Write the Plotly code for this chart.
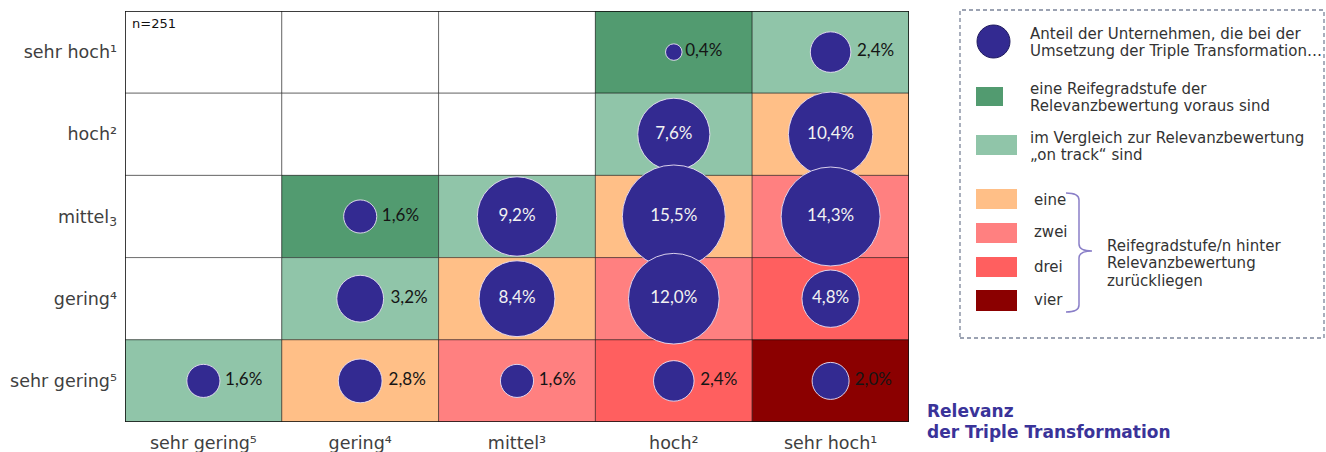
import plotly.graph_objects as go

# ---------------- data ----------------
relevance_labels = ["sehr gering⁵", "gering⁴", "mittel³", "hoch²", "sehr hoch¹"]
maturity_labels = ["sehr hoch¹", "hoch²", "mittel<sub>3</sub>", "gering⁴", "sehr gering⁵"]
shares = [
    [None, None, None, 0.4, 2.4],
    [None, None, None, 7.6, 10.4],
    [None, 1.6, 9.2, 15.5, 14.3],
    [None, 3.2, 8.4, 12.0, 4.8],
    [1.6, 2.8, 1.6, 2.4, 2.0],
]
# 0 = none, 1 = one step ahead, 2 = on track, 3..6 = one..four steps behind
status = [
    [0, 0, 0, 1, 2],
    [0, 0, 0, 2, 3],
    [0, 1, 2, 3, 4],
    [0, 2, 3, 4, 5],
    [2, 3, 4, 5, 6],
]
n_label = "n=251"

# ---------------- styles ----------------
FONT = "DejaVu Sans"
BUBBLE = "#332a91"
status_colors = ["#ffffff", "#529b70", "#90c5a9", "#ffbf87", "#ff8080", "#ff5f5f", "#8b0000"]

fig = go.Figure()

shapes = []
# cells (drawn below the bubbles)
for i, row in enumerate(status):
    for j, code in enumerate(row):
        shapes.append(dict(type="rect", xref="x", yref="y", x0=j - 0.5, x1=j + 0.5, y0=i - 0.5, y1=i + 0.5,
                           fillcolor=status_colors[code], line=dict(color="rgba(0,0,0,0.45)", width=1),
                           layer="below"))
shapes.append(dict(type="rect", xref="x", yref="y", x0=-0.5, x1=len(relevance_labels) - 0.5,
                   y0=-0.5, y1=len(maturity_labels) - 0.5, line=dict(color="#111111", width=1.5)))

# bubbles
bx, by, bs, bt, bpos, bcol = [], [], [], [], [], []
for i, row in enumerate(shares):
    for j, v in enumerate(row):
        if v is None:
            continue
        bx.append(j); by.append(i); bs.append(v)
        bt.append(f"{v:.1f}%".replace(".", ","))
        inside = v >= 4
        bpos.append("middle center" if inside else "middle right")
        bcol.append("#f2f2f2" if inside else "#151515")

max_d = 103
sizeref = 2 * max(bs) / max_d ** 2
fig.add_trace(go.Scatter(
    x=bx, y=by, mode="markers+text", text=bt, textposition=bpos,
    textfont=dict(family="Lato", size=17, color=bcol),
    marker=dict(size=bs, sizemode="area", sizeref=sizeref, color=BUBBLE,
                line=dict(color="rgba(235,225,245,0.9)", width=1), opacity=1),
    hoverinfo="skip", cliponaxis=False, showlegend=False))

# ---------------- legend (pixel helpers) ----------------
W, H = 1326, 452
L, R, T, B = 125, 909, 11, 422
def px(x): return (x - L) / (R - L)
def py(y): return (B - y) / (B - T)

shapes.append(dict(type="rect", xref="paper", yref="paper", x0=px(960), x1=px(1324), y0=py(338), y1=py(10),
                   line=dict(color="#7b8499", width=1.3, dash="4px,3px")))
shapes.append(dict(type="circle", xref="paper", yref="paper", x0=px(977), x1=px(1010), y0=py(58), y1=py(25),
                   fillcolor=BUBBLE, line=dict(color="#1f1a5e", width=1)))
leg_rects = [(1003, 87, 106, status_colors[1]), (1017, 135, 155, status_colors[2]),
             (1017, 189, 209, status_colors[3]), (1017, 223, 243, status_colors[4]),
             (1017, 257, 277, status_colors[5]), (1017, 290, 311, status_colors[6])]
for x1, y0, y1, c in leg_rects:
    shapes.append(dict(type="rect", xref="paper", yref="paper", x0=px(976), x1=px(x1), y0=py(y1), y1=py(y0),
                       fillcolor=c, line=dict(width=0)))

def P(x, y): return f"{px(x):.5f},{py(y):.5f}"
brace = (f"M {P(1066,193)} Q {P(1079,193)} {P(1079,200)} L {P(1079,244)} "
         f"Q {P(1079,251)} {P(1092,251)} Q {P(1079,251)} {P(1079,258)} L {P(1079,305)} "
         f"Q {P(1079,312)} {P(1066,312)}")
shapes.append(dict(type="path", xref="paper", yref="paper", path=brace,
                   line=dict(color="#8a7fc8", width=1.5)))

ann = []
def text(x, y, s, size=15, color="#333333", bold=False):
    ann.append(dict(xref="paper", yref="paper", x=px(x), y=py(y), text=(f"<b>{s}</b>" if bold else s),
                    showarrow=False, xanchor="left", yanchor="middle", align="left",
                    font=dict(family=FONT, size=size, color=color)))

legend_lines = [
    (1028, 34, "Anteil der Unternehmen, die bei der"),
    (1028, 51, "Umsetzung der Triple Transformation…"),
    (1028, 89, "eine Reifegradstufe der"),
    (1028, 106, "Relevanzbewertung voraus sind"),
    (1028, 138, "im Vergleich zur Relevanzbewertung"),
    (1028, 155, "„on track“ sind"),
    (1032, 200, "eine"), (1032, 232, "zwei"), (1032, 267, "drei"), (1032, 300, "vier"),
    (1105, 246, "Reifegradstufe/n hinter"),
    (1105, 263, "Relevanzbewertung"),
    (1105, 281, "zurückliegen"),
]
for x, y, s in legend_lines:
    text(x, y, s)
text(925, 411, "Relevanz", size=17, color="#3a3399", bold=True)
text(925, 432, "der Triple Transformation", size=17, color="#3a3399", bold=True)
text(130, 24, n_label, size=13, color="#111111")

fig.update_layout(
    width=W, height=H, margin=dict(l=L, r=W - R, t=T, b=H - B),
    paper_bgcolor="white", plot_bgcolor="white",
    shapes=shapes, annotations=ann, showlegend=False,
    xaxis=dict(range=[-0.5, 4.5], tickvals=list(range(5)), ticktext=relevance_labels,
               showgrid=False, zeroline=False, ticks="", ticklabelstandoff=8, automargin=False,
               tickfont=dict(family=FONT, size=17.5, color="#404040"), fixedrange=True),
    yaxis=dict(range=[4.5, -0.5], tickvals=list(range(5)), ticktext=maturity_labels,
               showgrid=False, zeroline=False, ticks="", ticklabelstandoff=7, automargin=False,
               tickfont=dict(family=FONT, size=17.5, color="#404040"), fixedrange=True),
)
fig.write_html("out.html")
